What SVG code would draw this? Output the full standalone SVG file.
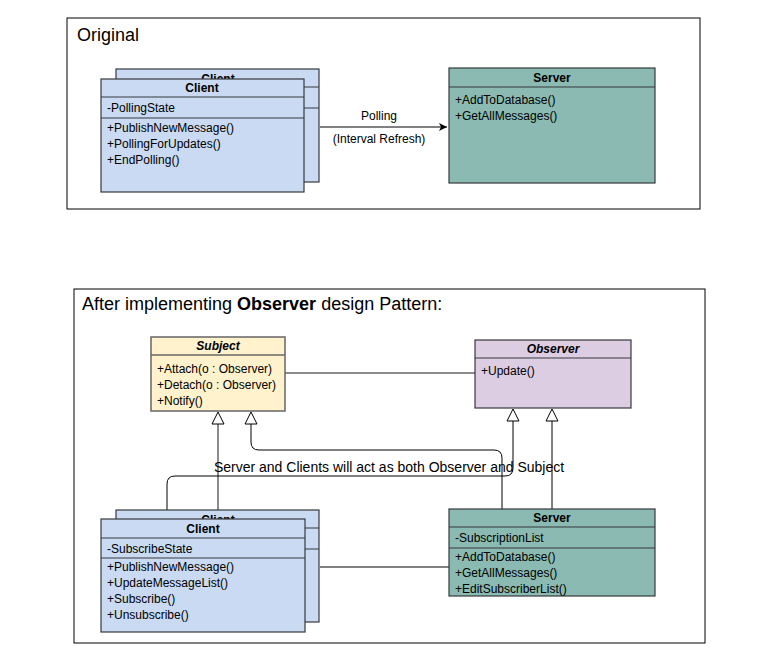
<svg xmlns="http://www.w3.org/2000/svg" width="778" height="665" viewBox="0 0 778 665">
<defs>
<style>
text{font-family:"Liberation Sans",Arial,sans-serif;font-size:12px;fill:#000}
.t{font-weight:bold;text-anchor:middle}
.ti{font-weight:bold;font-style:italic;text-anchor:middle}
.big{font-size:18px}
.lbl{font-size:14px;text-anchor:middle}
.c{text-anchor:middle}
.frame{fill:#fff;stroke:#000;stroke-width:1}
.client{fill:#c9daf2;stroke:#36393d;stroke-width:1.2}
.server{fill:#8abab1;stroke:#36393d;stroke-width:1.2}
.subj{fill:#fff2cc;stroke:#666;stroke-width:1.5}
.obs{fill:#dccde3;stroke:#36393d;stroke-width:1.2}
.sep{stroke:#36393d;stroke-width:1.2}
.sepg{stroke:#666;stroke-width:1.5}
.ln{fill:none;stroke:#000;stroke-width:1}
.lng{fill:none;stroke:#666;stroke-width:1.5}
.tri{fill:#fff;stroke:#000;stroke-width:1}
</style>
<marker id="arr" markerWidth="10" markerHeight="10" refX="8" refY="4" orient="auto" markerUnits="userSpaceOnUse">
<path d="M0,0 L8,4 L0,8 L2,4 Z" fill="#000"/>
</marker>
<clipPath id="clipTop"><rect x="116" y="69" width="203" height="10"/></clipPath>
<clipPath id="clipBot"><rect x="116" y="510" width="203" height="9"/></clipPath>
</defs>
<rect width="778" height="665" fill="#fff"/>

<g id="frame-original">
<rect class="frame" x="67" y="18" width="633" height="191"/>
<text class="big" x="77" y="41">Original</text>
</g>
<g id="frame-observer">
<rect class="frame" x="74" y="289" width="631" height="354"/>
<text class="big" x="82" y="310">After implementing <tspan font-weight="bold">Observer</tspan> design Pattern:</text>
</g>

<g id="connectors">
<line class="ln" x1="320" y1="127" x2="447" y2="127" marker-end="url(#arr)"/>
<text class="c" x="379" y="120">Polling</text>
<text class="c" x="379" y="143">(Interval Refresh)</text>

<line class="lng" x1="285" y1="373" x2="475" y2="373"/>
<line class="lng" x1="218" y1="510" x2="218" y2="424"/>
<path class="ln" d="M502,509 V458 Q502,450 494,450 H259 Q251,450 251,442 V424"/>
<path class="ln" d="M167,510 V484 Q167,476 175,476 H505 Q513,476 513,468 V421"/>
<line class="ln" x1="552" y1="509" x2="552" y2="421"/>
<path class="tri" d="M218,412 L224,424 L212,424 Z"/>
<path class="tri" d="M251,412 L257,424 L245,424 Z"/>
<path class="tri" d="M513,409 L519,421 L507,421 Z"/>
<path class="tri" d="M552,409 L558,421 L546,421 Z"/>
<text class="lbl" x="389" y="472">Server and Clients will act as both Observer and Subject</text>
<line class="ln" x1="320" y1="567" x2="449" y2="567"/>
</g>

<g id="client-top-back">
<rect class="client" x="116" y="69" width="203" height="113"/>
<line class="sep" x1="116" y1="87" x2="319" y2="87"/>
<line class="sep" x1="116" y1="108" x2="319" y2="108"/>
<text class="t" x="218" y="83" clip-path="url(#clipTop)">Client</text>
</g>
<g id="client-top">
<rect class="client" x="101" y="79" width="203" height="113"/>
<line class="sep" x1="101" y1="97" x2="304" y2="97"/>
<line class="sep" x1="101" y1="118" x2="304" y2="118"/>
<text class="t" x="202" y="92">Client</text>
<text x="107" y="112">-PollingState</text>
<text x="107" y="132">+PublishNewMessage()</text>
<text x="107" y="148">+PollingForUpdates()</text>
<text x="107" y="164">+EndPolling()</text>
</g>
<g id="server-top">
<rect class="server" x="449" y="68" width="206" height="115"/>
<line class="sep" x1="449" y1="87" x2="655" y2="87"/>
<text class="t" x="552" y="82">Server</text>
<text x="455" y="104">+AddToDatabase()</text>
<text x="455" y="120">+GetAllMessages()</text>
</g>

<g id="subject">
<rect class="subj" x="151" y="337" width="134" height="74"/>
<line class="sepg" x1="151" y1="355" x2="285" y2="355"/>
<text class="ti" x="218" y="350">Subject</text>
<text x="157" y="373">+Attach(o : Observer)</text>
<text x="157" y="389">+Detach(o : Observer)</text>
<text x="157" y="405">+Notify()</text>
</g>
<g id="observer">
<rect class="obs" x="475" y="340" width="156" height="68"/>
<line class="sep" x1="475" y1="358" x2="631" y2="358"/>
<text class="ti" x="553" y="353">Observer</text>
<text x="481" y="375">+Update()</text>
</g>

<g id="client-bottom-back">
<rect class="client" x="116" y="510" width="203" height="112"/>
<line class="sep" x1="116" y1="528" x2="319" y2="528"/>
<line class="sep" x1="116" y1="549" x2="319" y2="549"/>
<text class="t" x="218" y="524" clip-path="url(#clipBot)">Client</text>
</g>
<g id="client-bottom">
<rect class="client" x="101" y="519" width="204" height="113"/>
<line class="sep" x1="101" y1="538" x2="305" y2="538"/>
<line class="sep" x1="101" y1="558" x2="305" y2="558"/>
<text class="t" x="203" y="533">Client</text>
<text x="107" y="553">-SubscribeState</text>
<text x="107" y="571">+PublishNewMessage()</text>
<text x="107" y="587">+UpdateMessageList()</text>
<text x="107" y="603">+Subscribe()</text>
<text x="107" y="619">+Unsubscribe()</text>
</g>
<g id="server-bottom">
<rect class="server" x="449" y="509" width="206" height="87"/>
<line class="sep" x1="449" y1="527" x2="655" y2="527"/>
<line class="sep" x1="449" y1="548" x2="655" y2="548"/>
<text class="t" x="552" y="522">Server</text>
<text x="455" y="542">-SubscriptionList</text>
<text x="455" y="561">+AddToDatabase()</text>
<text x="455" y="577">+GetAllMessages()</text>
<text x="455" y="593">+EditSubscriberList()</text>
</g>
</svg>
